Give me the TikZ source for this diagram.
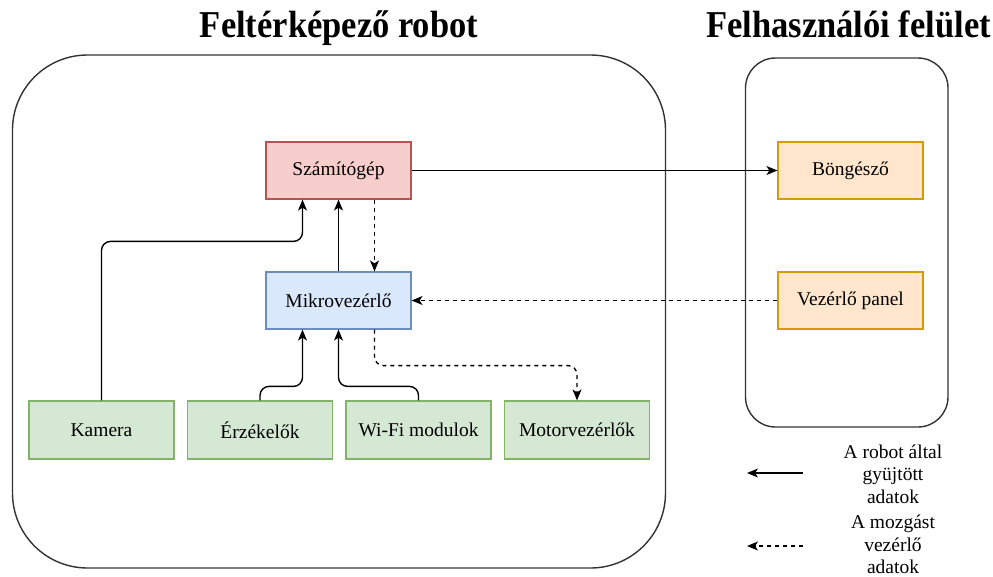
\documentclass[tikz,border=0pt]{standalone}
\usepackage{fontspec}
\IfFontExistsTF{LiberationSerif-Regular.ttf}
  {\setmainfont{LiberationSerif-Regular.ttf}[BoldFont=LiberationSerif-Bold.ttf]}
  {\setmainfont{Liberation Serif}}
\usetikzlibrary{arrows.meta}
\definecolor{redfill}{HTML}{F8CECC}\definecolor{redline}{HTML}{B85450}
\definecolor{bluefill}{HTML}{DAE8FC}\definecolor{blueline}{HTML}{6C8EBF}
\definecolor{greenfill}{HTML}{D5E8D4}\definecolor{greenline}{HTML}{82B366}
\definecolor{orangefill}{HTML}{FFE6CC}\definecolor{orangeline}{HTML}{D79B00}
\definecolor{frame}{HTML}{333333}
\tikzset{
  box/.style={draw, line width=1.2pt, minimum width=145pt, minimum height=57pt, inner sep=0pt,
    font=\rmfamily\fontsize{19.5}{23}\selectfont},
  redbox/.style={box, fill=redfill, draw=redline},
  bluebox/.style={box, fill=bluefill, draw=blueline},
  greenbox/.style={box, fill=greenfill, draw=greenline},
  orangebox/.style={box, fill=orangefill, draw=orangeline},
  container/.style={draw=frame, line width=1.4pt, inner sep=0pt},
  arr/.style={line width=1.4pt, -{Stealth[length=11pt,width=9pt,inset=3pt]}, rounded corners=9pt},
  darr/.style={arr, dash pattern=on 4pt off 4pt},
  title/.style={anchor=base, inner sep=0pt, font=\rmfamily\bfseries\fontsize{34.5}{40}\selectfont},
  legend/.style={align=center, inner sep=0pt, font=\rmfamily\fontsize{19.5}{22.5}\selectfont}
}
\begin{document}
\begin{tikzpicture}[x=1pt,y=-1pt]
\useasboundingbox (0,0) rectangle (993,576);
% containers
\node[container, rounded corners=75pt, minimum width=653pt, minimum height=513pt] (robot) at (339,311.5) {};
\node[container, rounded corners=30pt, minimum width=202.5pt, minimum height=369pt] (ui) at (846.75,242.5) {};
% titles
\node[title] (t1) at (339,37) {\scalebox{1}[1.1]{Feltérképező robot}};
\node[title] (t2) at (848.5,37) {\scalebox{1}[1.1]{Felhasználói felület}};
% nodes
\node[redbox] (szam) at (338.5,170.5) {Számítógép};
\node[bluebox] (mikro) at (338.5,300.5) {Mikrovezérlő};
\node[greenbox, minimum height=58pt] (kamera) at (101.5,430) {Kamera};
\node[greenbox, minimum height=58pt] (erz) at (260,430) {Érzékelők};
\node[greenbox, minimum height=58pt] (wifi) at (418.5,430) {Wi-Fi modulok};
\node[greenbox, minimum height=58pt] (motor) at (577,430) {Motorvezérlők};
\node[orangebox] (bong) at (850.5,170.5) {Böngésző};
\node[orangebox] (vez) at (850.5,300.5) {Vezérlő panel};
% anchor points
\coordinate (szamL) at ([xshift=-36pt]szam.south);
\coordinate (szamR) at ([xshift=36pt]szam.south);
\coordinate (mikroTR) at ([xshift=36pt]mikro.north);
\coordinate (mikroBL) at ([xshift=-36pt]mikro.south);
\coordinate (mikroBR) at ([xshift=36pt]mikro.south);
% connectors
\draw[arr] (szam.east) -- (bong.west);
\draw[arr] (kamera.north) -- ++(0,-159) -| (szamL);
\draw[arr] (mikro.north) -- (szam.south);
\draw[darr] (szamR) -- (mikroTR);
\draw[darr] (vez.west) -- (mikro.east);
\draw[arr] (erz.north) -- ++(0,-14) -| (mikroBL);
\draw[arr] (wifi.north) -- ++(0,-14) -| (mikro.south);
\draw[darr] (mikroBR) -- ++(0,36) -| (motor.north);
% legend
\coordinate (l1s) at (803,473);
\coordinate (l1e) at (747,473);
\coordinate (l2s) at (803,546);
\coordinate (l2e) at (747,546);
\draw[arr] (l1s) -- (l1e);
\draw[darr] (l2s) -- (l2e);
\node[legend] (lt1) at (893,474) {A robot által\\gyüjtött\\adatok};
\node[legend] (lt2) at (893,544.5) {A mozgást\\vezérlő\\adatok};
\end{tikzpicture}
\end{document}
